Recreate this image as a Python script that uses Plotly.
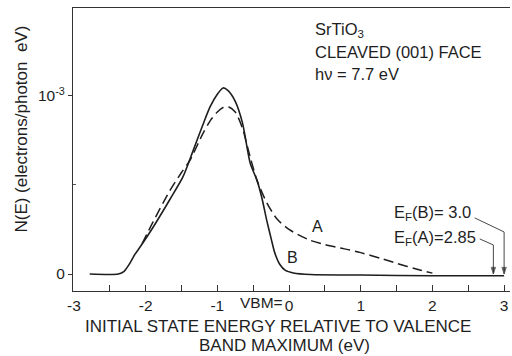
import plotly.graph_objects as go

# Energy relative to VBM (eV); N(E) in units of 1e-3 electrons/photon eV
curve_B_x = [-2.78, -2.38, -2.30, -2.22, -2.15, -2.08, -1.90, -1.66, -1.48, -1.34, -1.20,
             -1.10, -1.00, -0.92, -0.85, -0.75, -0.65, -0.54, -0.45, -0.38, -0.31, -0.25,
             -0.20, -0.13, -0.05, 0.06, 0.30, 1.00, 2.00, 3.00]
curve_B_y = [0.0, 0.0, 0.015, 0.06, 0.11, 0.15, 0.26, 0.42, 0.545, 0.69, 0.84,
             0.94, 1.01, 1.045, 1.03, 0.97, 0.85, 0.62, 0.53, 0.43, 0.30, 0.20,
             0.12, 0.055, 0.02, 0.006, -0.003, -0.006, -0.01, -0.01]

curve_A_x = [-2.05, -1.90, -1.66, -1.50, -1.38, -1.20, -1.10, -1.00, -0.92, -0.85, -0.75,
             -0.65, -0.57, -0.45, -0.31, -0.17, 0.00, 0.29, 0.50, 0.71, 0.85, 1.00,
             1.30, 1.50, 1.80, 2.00]
curve_A_y = [0.17, 0.29, 0.47, 0.57, 0.64, 0.79, 0.86, 0.91, 0.935, 0.94, 0.91,
             0.82, 0.70, 0.53, 0.40, 0.31, 0.25, 0.19, 0.165, 0.146, 0.135, 0.12,
             0.085, 0.06, 0.025, 0.005]

x_tick_vals = [-3, -2, -1, 0, 1, 2, 3]
x_tick_text = ["-3", "-2", "-1", "0", "1", "2", "3"]
y_tick_vals = [0, 1]
y_tick_text = ["0", "10<sup>-3</sup>"]

ef_names = ["B", "A"]
ef_values = [3.0, 2.85]
ef_text = ["3.0", "2.85"]
ef_label_y = [0.343, 0.20]
ef_leader_start_x = [2.59, 2.66]
ef_leader_start_y = [0.315, 0.197]
ef_leader_bend_y = [0.236, 0.163]

FONT = "Liberation Sans, Arial, sans-serif"
INK = "#1e1e1e"

fig = go.Figure()
fig.add_trace(go.Scatter(x=curve_B_x, y=curve_B_y, mode="lines",
                         line=dict(color=INK, width=1.6, shape="spline", smoothing=0.7),
                         showlegend=False))
fig.add_trace(go.Scatter(x=curve_A_x, y=curve_A_y, mode="lines",
                         line=dict(color=INK, width=1.5, dash="10px,5px", shape="spline", smoothing=0.7),
                         showlegend=False))

# Fermi-level leader lines with arrowheads pointing down to N(E)=0
for val, sx, sy, by in zip(ef_values, ef_leader_start_x, ef_leader_start_y, ef_leader_bend_y):
    fig.add_trace(go.Scatter(x=[sx, val, val], y=[sy, by, 0], mode="lines+markers",
                             line=dict(color="#333", width=0.9),
                             marker=dict(symbol="arrow", size=[0, 0, 7], angleref="previous",
                                         color=INK),
                             showlegend=False, hoverinfo="skip"))

ann = []
for txt, yy in [("SrTiO<sub>3</sub>", 1.371), ("CLEAVED (001) FACE", 1.247), ("hν = 7.7 eV", 1.124)]:
    ann.append(dict(x=0.335, y=yy, xref="x", yref="y", text=txt, showarrow=False,
                    xanchor="left", yanchor="middle", font=dict(size=16.5, color=INK, family=FONT)))
ann.append(dict(x=0.40, y=0.264, xref="x", yref="y", text="A", showarrow=False,
                font=dict(size=16, color=INK, family=FONT)))
ann.append(dict(x=0.045, y=0.09, xref="x", yref="y", text="B", showarrow=False,
                font=dict(size=16, color=INK, family=FONT)))
for name, vt, ly in zip(ef_names, ef_text, ef_label_y):
    ann.append(dict(x=1.437, y=ly, xref="x", yref="y",
                    text="E<sub>F</sub>(%s)=%s%s" % (name, " " if name == "B" else "", vt),
                    showarrow=False, xanchor="left", yanchor="middle",
                    font=dict(size=16.5, color=INK, family=FONT)))
ann.append(dict(x=0, y=-0.0424, xref="x", yref="paper", text="VBM=", showarrow=False,
                xanchor="right", yanchor="middle", xshift=-4,
                font=dict(size=15.5, color=INK, family=FONT)))
ann.append(dict(x=0.470, y=-0.1237, xref="paper", yref="paper",
                text="INITIAL STATE ENERGY RELATIVE TO VALENCE", showarrow=False,
                xanchor="center", yanchor="middle", borderpad=0,
                font=dict(size=17, color=INK, family=FONT)))
ann.append(dict(x=0.485, y=-0.1943, xref="paper", yref="paper",
                text="BAND MAXIMUM (eV)", showarrow=False,
                xanchor="center", yanchor="middle", borderpad=0,
                font=dict(size=17, color=INK, family=FONT)))
ann.append(dict(x=-0.118, y=0.572, xref="paper", yref="paper",
                text="N(E) (electrons/photon  eV)", showarrow=False, textangle=-90,
                xanchor="center", yanchor="middle", font=dict(size=17, color=INK, family=FONT)))

fig.update_layout(
    width=512, height=356,
    margin=dict(l=73, r=2, t=8, b=65),
    paper_bgcolor="white", plot_bgcolor="white",
    font=dict(family=FONT, color=INK, size=15),
    annotations=ann,
    xaxis=dict(range=[-3.013, 3.082], showgrid=False, zeroline=False,
               showline=True, linecolor="#333", linewidth=1, mirror=True,
               tickmode="array", tickvals=x_tick_vals, ticktext=x_tick_text,
               ticks="inside", ticklen=6, tickcolor="#333",
               minor=dict(dtick=0.5, tick0=-3, ticks="inside", ticklen=6, tickcolor="#333"),
               tickfont=dict(size=15.5, family=FONT, color=INK)),
    yaxis=dict(range=[-0.0955, 1.494], showgrid=False, zeroline=False,
               showline=True, linecolor="#333", linewidth=1,
               tickmode="array", tickvals=y_tick_vals, ticktext=y_tick_text,
               ticks="outside", ticklen=4, tickcolor="#333",
               minor=dict(tickmode="array", tickvals=[0.5], ticks="inside", ticklen=3, tickcolor="#555"),
               tickfont=dict(size=15.5, family=FONT, color=INK)),
)

fig.write_html("out.html")
